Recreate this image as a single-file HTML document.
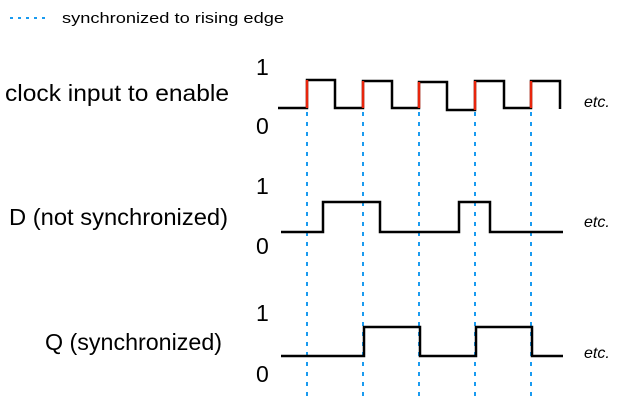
<html><body style="margin:0;background:#fff">
<svg width="631" height="404" xmlns="http://www.w3.org/2000/svg" font-family="Liberation Sans, sans-serif">
<line x1="10" y1="18" x2="50" y2="18" stroke="#1a9bf0" stroke-width="2" stroke-dasharray="3,5"/>
<text x="62" y="23" font-size="15" textLength="222" lengthAdjust="spacingAndGlyphs">synchronized to rising edge</text>
<g stroke="#1a9bf0" stroke-width="2" stroke-dasharray="4,6">
<line x1="307" y1="112" x2="307" y2="398"/><line x1="363" y1="112" x2="363" y2="398"/>
<line x1="419" y1="112" x2="419" y2="398"/><line x1="475" y1="112" x2="475" y2="398"/>
<line x1="531" y1="112" x2="531" y2="398"/></g>
<g font-size="23">
<text x="5" y="101" textLength="224" lengthAdjust="spacingAndGlyphs">clock input to enable</text>
<text x="9" y="225" textLength="219" lengthAdjust="spacingAndGlyphs">D (not synchronized)</text>
<text x="45" y="350" textLength="177" lengthAdjust="spacingAndGlyphs">Q (synchronized)</text>
<text x="256" y="75">1</text><text x="256" y="134">0</text>
<text x="256" y="194">1</text><text x="256" y="254">0</text>
<text x="256" y="321">1</text><text x="256" y="382">0</text>
</g>
<g font-size="16" font-style="italic"><text x="584" y="107">etc.</text><text x="584" y="227">etc.</text><text x="584" y="358">etc.</text></g>
<g fill="none" stroke="#000" stroke-width="2.5">
<polyline points="278,108 307,108 307,80 335,80 335,108 363,108 363,81 392,81 392,108 419,108 419,82 447,82 447,110 475,110 475,81 504,81 504,108 531,108 531,81 560,81 560,109"/>
<polyline points="281,232 323,232 323,202 380,202 380,232 459,232 459,202 490,202 490,232 563,232"/>
<polyline points="281,356 364,356 364,327 420,327 420,356 476,356 476,327 532,327 532,356 563,356"/>
</g>
<g stroke="#e8250c" stroke-width="2.5">
<line x1="307" y1="80" x2="307" y2="108"/><line x1="363" y1="81" x2="363" y2="108"/>
<line x1="419" y1="82" x2="419" y2="108"/><line x1="475" y1="81" x2="475" y2="110"/>
<line x1="531" y1="81" x2="531" y2="108"/></g>
</svg>
</body></html>
